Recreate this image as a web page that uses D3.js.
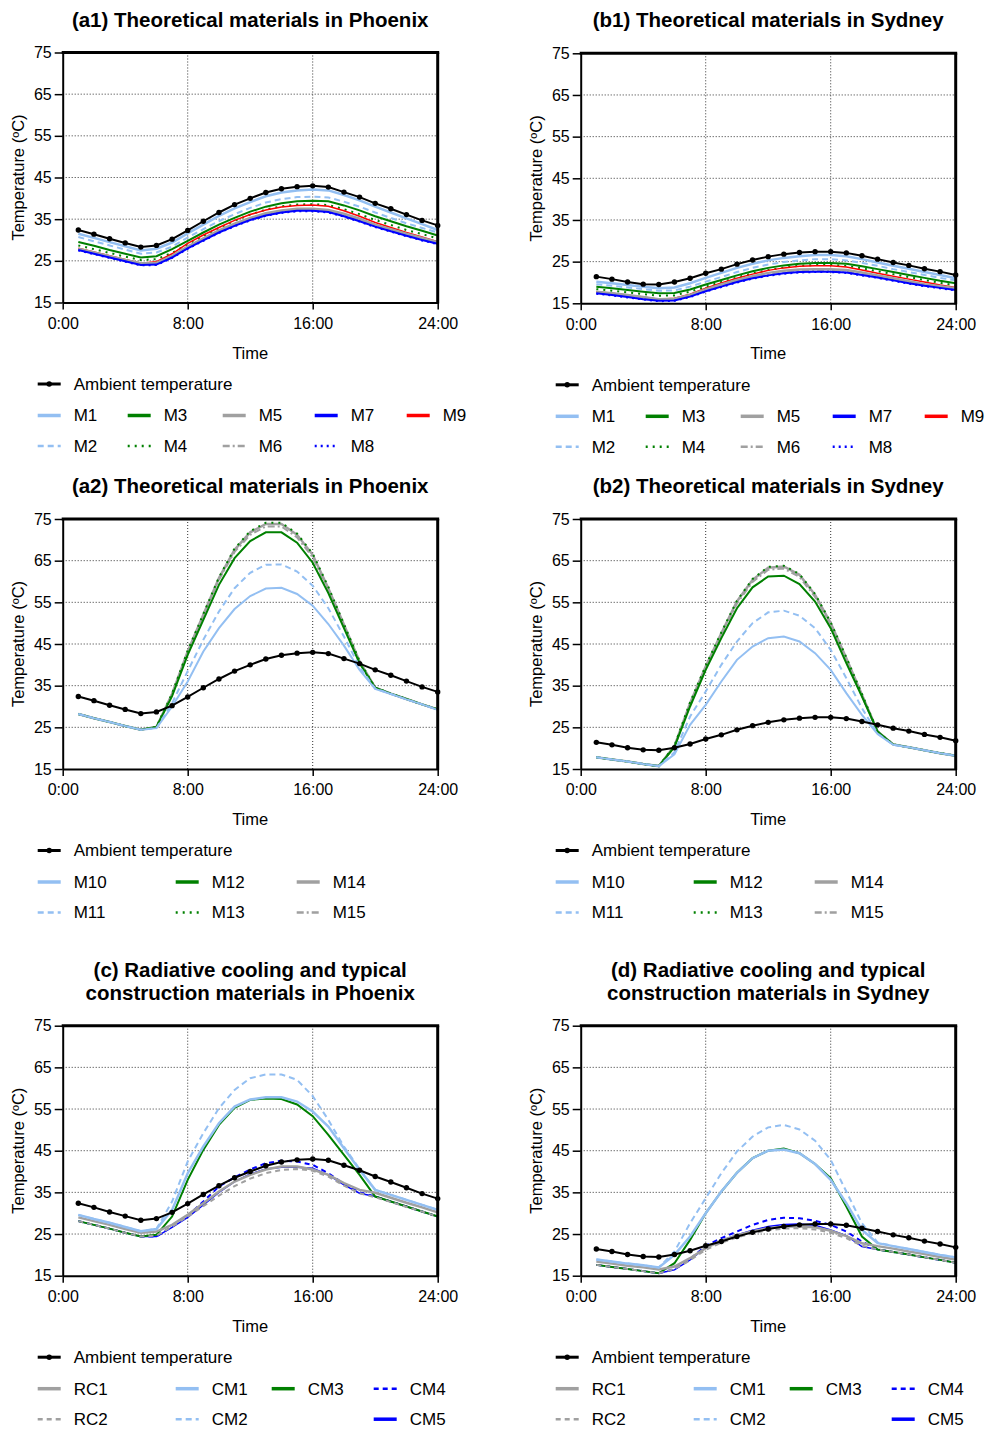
<!DOCTYPE html>
<html>
<head>
<meta charset="utf-8">
<script src="https://cdn.jsdelivr.net/npm/d3@7"></script>
<style>
body { margin: 0; background: #fff; }
text { font-family: "Liberation Sans", Arial, sans-serif; fill: #000; }
</style>
</head>
<body>
<div id="chart"></div>
<script>
// hourly data points, 1:00 .. 24:00
const hours = [1, 2, 3, 4, 5, 6, 7, 8, 9, 10, 11, 12, 13, 14, 15, 16, 17, 18, 19, 20, 21, 22, 23, 24];
const xTicks = [0, 8, 16, 24];
const xTickLabels = ["0:00", "8:00", "16:00", "24:00"];
const yTicks = [15, 25, 35, 45, 55, 65, 75];

const ambientPhoenix = [32.4, 31.4, 30.3, 29.3, 28.3, 28.7, 30.2, 32.3, 34.5, 36.6, 38.5, 40.0, 41.4, 42.3, 42.8, 43.0, 42.7, 41.5, 40.3, 38.8, 37.5, 36.1, 34.7, 33.5];
const ambientSydney = [21.4, 20.8, 20.1, 19.6, 19.5, 20.1, 21.0, 22.2, 23.2, 24.4, 25.4, 26.2, 26.8, 27.2, 27.4, 27.4, 27.1, 26.4, 25.6, 24.8, 24.1, 23.3, 22.6, 21.8];

// (a1)
const m1Phoenix = [31.5, 30.5, 29.5, 28.5, 27.5, 27.9, 29.4, 31.6, 33.7, 35.8, 37.6, 39.1, 40.5, 41.4, 41.9, 42.1, 41.9, 40.8, 39.5, 38.0, 36.6, 35.2, 33.8, 32.4];
const m2Phoenix = [30.7, 29.7, 28.7, 27.7, 26.7, 27.0, 28.4, 30.6, 32.6, 34.5, 36.2, 37.7, 39.0, 39.8, 40.3, 40.4, 40.2, 39.2, 38.0, 36.6, 35.3, 34.0, 32.9, 31.8];
const m3Phoenix = [29.5, 28.6, 27.6, 26.7, 25.8, 26.1, 27.8, 29.8, 31.8, 33.7, 35.3, 36.8, 38.0, 38.8, 39.3, 39.4, 39.3, 38.3, 37.1, 35.7, 34.5, 33.3, 32.2, 31.1];
const m4Phoenix = [28.7, 27.8, 26.9, 26.0, 25.2, 25.4, 26.9, 29.0, 31.0, 32.9, 34.6, 36.1, 37.3, 38.1, 38.5, 38.6, 38.4, 37.4, 36.2, 34.8, 33.6, 32.4, 31.4, 30.4];
const m5Phoenix = [27.9, 27.0, 26.1, 25.2, 24.4, 24.5, 26.2, 28.4, 30.4, 32.3, 33.9, 35.3, 36.4, 37.1, 37.5, 37.5, 37.2, 36.3, 35.1, 33.7, 32.6, 31.5, 30.5, 29.5];
const m6Phoenix = [27.7, 26.8, 25.9, 25.0, 24.2, 24.3, 26.0, 28.2, 30.1, 32.0, 33.6, 35.0, 36.1, 36.8, 37.2, 37.3, 37.0, 36.0, 34.8, 33.4, 32.3, 31.2, 30.2, 29.2];
const m7Phoenix = [27.6, 26.7, 25.8, 24.9, 24.0, 24.1, 25.8, 28.0, 29.9, 31.8, 33.4, 34.8, 35.9, 36.6, 37.0, 37.0, 36.7, 35.7, 34.5, 33.2, 32.1, 31.0, 30.0, 29.1];
const m8Phoenix = [27.5, 26.6, 25.7, 24.8, 23.9, 24.0, 25.7, 27.9, 29.8, 31.7, 33.3, 34.7, 35.8, 36.5, 36.9, 36.9, 36.6, 35.6, 34.4, 33.1, 32.0, 30.9, 29.9, 29.0];
const m9Phoenix = [28.0, 27.1, 26.2, 25.3, 24.4, 24.8, 26.7, 29.2, 31.2, 33.0, 34.7, 36.1, 37.2, 37.9, 38.3, 38.4, 38.1, 37.0, 35.7, 34.2, 33.0, 31.8, 30.7, 29.6];

// (b1)
const m1Sydney = [20.2, 19.8, 19.4, 19.0, 18.6, 18.8, 19.8, 21.1, 22.3, 23.5, 24.5, 25.3, 25.9, 26.3, 26.6, 26.6, 26.3, 25.6, 24.8, 24.0, 23.3, 22.5, 21.8, 21.0];
const m2Sydney = [19.6, 19.2, 18.8, 18.4, 18.0, 18.1, 19.0, 20.2, 21.3, 22.5, 23.5, 24.3, 24.9, 25.3, 25.6, 25.6, 25.3, 24.7, 24.0, 23.2, 22.5, 21.8, 21.1, 20.5];
const m3Sydney = [19.0, 18.6, 18.2, 17.8, 17.4, 17.5, 18.3, 19.5, 20.6, 21.7, 22.7, 23.5, 24.1, 24.5, 24.7, 24.7, 24.5, 23.9, 23.2, 22.5, 21.8, 21.1, 20.4, 19.8];
const m4Sydney = [18.4, 18.0, 17.6, 17.2, 16.8, 16.9, 17.8, 19.0, 20.1, 21.2, 22.2, 23.0, 23.6, 24.0, 24.2, 24.2, 24.0, 23.4, 22.7, 22.0, 21.3, 20.6, 19.9, 19.3];
const m5Sydney = [17.8, 17.4, 17.0, 16.5, 16.0, 16.1, 17.0, 18.3, 19.5, 20.6, 21.5, 22.3, 22.8, 23.1, 23.2, 23.2, 23.0, 22.4, 21.7, 21.0, 20.3, 19.6, 19.1, 18.6];
const m6Sydney = [17.6, 17.2, 16.8, 16.3, 15.8, 15.9, 16.8, 18.1, 19.3, 20.4, 21.3, 22.1, 22.6, 22.9, 23.0, 23.0, 22.8, 22.2, 21.5, 20.8, 20.1, 19.4, 18.9, 18.4];
const m7Sydney = [17.4, 17.0, 16.5, 16.0, 15.6, 15.7, 16.6, 17.9, 19.0, 20.1, 21.0, 21.7, 22.2, 22.5, 22.6, 22.6, 22.4, 21.8, 21.2, 20.5, 19.8, 19.2, 18.7, 18.2];
const m8Sydney = [17.3, 16.9, 16.4, 15.9, 15.5, 15.6, 16.5, 17.8, 18.9, 20.0, 20.9, 21.6, 22.1, 22.4, 22.5, 22.5, 22.3, 21.7, 21.1, 20.4, 19.7, 19.1, 18.6, 18.1];
const m9Sydney = [17.8, 17.4, 17.0, 16.5, 16.0, 16.2, 17.2, 18.6, 19.9, 21.0, 22.0, 22.9, 23.5, 23.9, 24.0, 24.0, 23.7, 23.0, 22.2, 21.5, 20.8, 20.1, 19.4, 18.8];

// (a2)
const m10Phoenix = [28.2, 27.2, 26.3, 25.3, 24.4, 24.8, 30.0, 36.0, 43.2, 48.8, 53.4, 56.5, 58.3, 58.5, 57.0, 54.2, 49.8, 44.6, 38.8, 34.2, 33.0, 31.7, 30.5, 29.2];
const m11Phoenix = [28.2, 27.2, 26.3, 25.3, 24.4, 24.8, 30.8, 38.5, 46.0, 52.8, 58.4, 62.1, 64.0, 64.1, 62.4, 59.0, 53.6, 46.8, 39.5, 34.3, 33.0, 31.7, 30.5, 29.2];
const m12Phoenix = [28.2, 27.2, 26.3, 25.3, 24.4, 25.1, 32.5, 42.4, 50.8, 59.2, 65.6, 69.7, 71.8, 71.8, 69.3, 64.5, 57.2, 48.8, 40.4, 34.5, 33.1, 31.8, 30.5, 29.3];
const m13Phoenix = [28.2, 27.2, 26.3, 25.3, 24.4, 25.1, 33.1, 43.4, 52.2, 61.0, 67.9, 72.1, 74.1, 74.1, 71.5, 66.7, 58.7, 49.8, 40.9, 34.5, 33.1, 31.8, 30.5, 29.3];
const m14Phoenix = [28.2, 27.2, 26.3, 25.3, 24.4, 25.1, 33.0, 43.2, 52.0, 60.8, 67.6, 71.8, 73.8, 73.8, 71.2, 66.4, 58.4, 49.6, 40.8, 34.5, 33.1, 31.8, 30.5, 29.3];
const m15Phoenix = [28.2, 27.2, 26.3, 25.3, 24.4, 25.1, 32.9, 43.0, 51.7, 60.4, 67.1, 71.2, 73.2, 73.2, 70.6, 65.8, 57.9, 49.3, 40.6, 34.5, 33.1, 31.8, 30.5, 29.3];

// (b2)
const m10Sydney = [17.8, 17.3, 16.8, 16.2, 15.7, 18.5, 25.6, 30.4, 36.0, 41.2, 44.4, 46.4, 46.8, 45.6, 42.8, 38.8, 33.2, 28.0, 23.4, 20.8, 20.2, 19.5, 18.8, 18.2];
const m11Sydney = [17.8, 17.3, 16.8, 16.2, 15.7, 19.0, 27.6, 33.6, 40.0, 45.6, 50.0, 52.6, 53.0, 51.8, 48.8, 43.6, 36.8, 29.6, 23.5, 20.8, 20.2, 19.5, 18.8, 18.2];
const m12Sydney = [17.8, 17.3, 16.8, 16.2, 15.7, 20.3, 30.0, 38.8, 46.4, 53.6, 58.6, 61.2, 61.4, 59.4, 55.2, 48.8, 40.4, 32.4, 24.0, 20.9, 20.2, 19.5, 18.8, 18.2];
const m13Sydney = [17.8, 17.3, 16.8, 16.2, 15.7, 20.6, 31.0, 39.8, 47.8, 55.4, 60.6, 63.5, 63.8, 61.8, 57.0, 50.2, 41.8, 33.0, 24.0, 20.9, 20.2, 19.5, 18.8, 18.2];
const m14Sydney = [17.8, 17.3, 16.8, 16.2, 15.7, 20.5, 30.8, 39.6, 47.6, 55.2, 60.4, 63.3, 63.6, 61.6, 56.8, 50.0, 41.6, 32.8, 24.0, 20.9, 20.2, 19.5, 18.8, 18.2];
const m15Sydney = [17.8, 17.3, 16.8, 16.2, 15.7, 20.4, 30.6, 39.3, 47.2, 54.7, 59.9, 62.8, 63.1, 61.1, 56.3, 49.6, 41.2, 32.6, 23.9, 20.9, 20.2, 19.5, 18.8, 18.2];

// (c)
const rc1Phoenix = [29.0, 28.1, 27.2, 26.2, 25.3, 25.6, 27.2, 29.6, 32.4, 35.2, 37.6, 39.2, 40.5, 41.2, 41.2, 40.5, 39.2, 37.2, 35.6, 34.9, 33.7, 32.5, 31.4, 30.2];
const rc2Phoenix = [28.1, 27.2, 26.3, 25.3, 24.4, 24.6, 26.8, 29.2, 31.7, 34.2, 36.5, 38.3, 39.6, 40.4, 40.6, 40.2, 38.8, 36.6, 34.8, 33.8, 32.7, 31.5, 30.4, 29.2];
const cm1Phoenix = [29.6, 28.6, 27.7, 26.7, 25.7, 26.2, 30.8, 39.6, 46.0, 51.6, 55.6, 57.3, 57.8, 57.8, 56.8, 54.4, 50.8, 45.6, 40.4, 35.6, 34.4, 33.2, 32.0, 30.8];
const cm2Phoenix = [29.6, 28.6, 27.7, 26.7, 25.7, 26.2, 32.8, 42.4, 49.2, 55.2, 59.6, 62.4, 63.3, 63.3, 62.0, 58.1, 52.4, 46.0, 40.6, 35.6, 34.4, 33.2, 32.0, 30.8];
const cm3Phoenix = [28.1, 27.2, 26.3, 25.3, 24.4, 24.8, 29.2, 38.0, 45.2, 51.2, 55.3, 57.2, 57.5, 57.4, 56.1, 53.3, 48.8, 44.0, 39.2, 34.0, 32.8, 31.6, 30.4, 29.2];
const cm4Phoenix = [28.1, 27.2, 26.3, 25.3, 24.4, 24.4, 26.8, 29.4, 32.8, 36.4, 38.6, 40.5, 42.0, 42.6, 42.4, 41.6, 39.6, 37.0, 35.0, 34.0, 32.8, 31.6, 30.4, 29.2];
const cm5Phoenix = [28.1, 27.2, 26.3, 25.3, 24.4, 24.4, 26.6, 29.0, 32.0, 35.0, 37.6, 39.4, 40.6, 41.0, 41.0, 40.8, 39.2, 36.8, 34.8, 34.0, 32.8, 31.6, 30.4, 29.2];

// (d)
const rc1Sydney = [18.4, 17.9, 17.4, 17.0, 16.5, 17.2, 19.2, 21.6, 23.4, 24.7, 25.7, 26.4, 26.8, 26.8, 26.6, 25.8, 24.5, 22.8, 22.1, 21.5, 20.8, 20.2, 19.5, 18.9];
const rc2Sydney = [17.6, 17.1, 16.6, 16.1, 15.6, 16.6, 18.7, 21.2, 22.9, 24.2, 25.2, 25.9, 26.3, 26.4, 26.1, 25.3, 24.0, 22.2, 21.3, 20.7, 20.1, 19.4, 18.8, 18.1];
const cm1Sydney = [18.9, 18.4, 17.9, 17.5, 17.0, 20.0, 24.4, 30.0, 35.2, 39.7, 43.2, 45.0, 45.3, 44.4, 41.8, 38.0, 32.4, 26.0, 22.8, 22.1, 21.4, 20.7, 20.0, 19.4];
const cm2Sydney = [18.9, 18.4, 17.9, 17.5, 17.0, 20.8, 27.6, 33.6, 39.6, 44.8, 48.4, 50.6, 51.2, 50.1, 47.4, 42.8, 35.2, 27.6, 23.0, 22.1, 21.4, 20.7, 20.0, 19.4];
const cm3Sydney = [17.6, 17.1, 16.6, 16.1, 15.6, 18.0, 23.6, 30.0, 35.2, 39.7, 43.2, 45.0, 45.5, 44.4, 41.8, 38.4, 31.6, 24.4, 21.3, 20.7, 20.1, 19.4, 18.8, 18.1];
const cm4Sydney = [17.6, 17.1, 16.6, 16.1, 15.6, 16.6, 19.0, 22.2, 24.0, 25.6, 27.2, 28.4, 28.9, 28.8, 28.2, 27.2, 25.6, 23.2, 21.3, 20.7, 20.1, 19.4, 18.8, 18.1];
const cm5Sydney = [17.6, 17.1, 16.6, 16.1, 15.6, 16.4, 18.8, 21.8, 23.4, 24.8, 25.9, 26.8, 27.3, 27.4, 27.1, 26.0, 24.6, 22.0, 21.3, 20.7, 20.1, 19.4, 18.8, 18.1];

// line styles per series name
const lightBlue = "#93bff2", green = "#008000", grey = "#a0a0a0", blue = "#0000ff", red = "#ff0000";
const styles = {
  M1: { color: lightBlue, width: 2.5 }, M2: { color: lightBlue, width: 2, dash: "6,4" },
  M3: { color: green, width: 2 }, M4: { color: green, width: 2, dash: "2,5" },
  M5: { color: grey, width: 2.5 }, M6: { color: grey, width: 2, dash: "7,3,2,3" },
  M7: { color: blue, width: 2 }, M8: { color: blue, width: 2, dash: "2,4" },
  M9: { color: red, width: 1.5 },
  M10: { color: lightBlue, width: 2 }, M11: { color: lightBlue, width: 2, dash: "6,4" },
  M12: { color: green, width: 2 }, M13: { color: green, width: 2, dash: "2,5" },
  M14: { color: grey, width: 2.5 }, M15: { color: grey, width: 2, dash: "7,3,2,3" },
  RC1: { color: grey, width: 2.5 }, RC2: { color: grey, width: 2, dash: "5,4" },
  CM1: { color: lightBlue, width: 2.5 }, CM2: { color: lightBlue, width: 2, dash: "6,4" },
  CM3: { color: green, width: 2 }, CM4: { color: blue, width: 2, dash: "5,4" },
  CM5: { color: blue, width: 1.5 }
};

const svg = d3.select("#chart").append("svg")
  .attr("width", 985)
  .attr("height", 1439);

function drawPanel(p) {
  const x = d3.scaleLinear().domain([0, 24]).range([p.left, p.left + 375]);
  const y = d3.scaleLinear().domain([15, 75]).range([p.top + 250, p.top]);
  const g = svg.append("g");

  // dotted grid
  g.selectAll("line.hgrid").data([25, 35, 45, 55, 65]).join("line")
    .attr("class", "hgrid")
    .attr("x1", x(0)).attr("x2", x(24))
    .attr("y1", d => y(d)).attr("y2", d => y(d))
    .attr("stroke", "#333").attr("stroke-width", 1).attr("stroke-dasharray", "1,2");
  g.selectAll("line.vgrid").data([8, 16]).join("line")
    .attr("class", "vgrid")
    .attr("x1", d => x(d)).attr("x2", d => x(d))
    .attr("y1", y(15)).attr("y2", y(75))
    .attr("stroke", "#333").attr("stroke-width", 1).attr("stroke-dasharray", "1,2");

  const line = d3.line().x((d, i) => x(hours[i])).y(d => y(d));
  p.series.forEach(s => {
    const st = styles[s.name];
    g.append("path")
      .attr("d", line(s.values))
      .attr("fill", "none")
      .attr("stroke", st.color)
      .attr("stroke-width", st.width)
      .attr("stroke-dasharray", st.dash || null);
  });

  // ambient on top with dots
  g.append("path")
    .attr("d", line(p.ambient))
    .attr("fill", "none").attr("stroke", "#000").attr("stroke-width", 2);
  g.selectAll("circle.amb").data(p.ambient).join("circle")
    .attr("class", "amb")
    .attr("cx", (d, i) => x(hours[i])).attr("cy", d => y(d))
    .attr("r", 2.7).attr("fill", "#000");

  // axes
  const ay = g.append("g")
    .attr("transform", `translate(${x(0)},0)`)
    .call(d3.axisLeft(y).tickValues(yTicks).tickSize(8).tickPadding(3).tickSizeOuter(0));
  const axb = g.append("g")
    .attr("transform", `translate(0,${y(15)})`)
    .call(d3.axisBottom(x).tickValues(xTicks).tickFormat((d, i) => xTickLabels[i])
      .tickSize(7).tickPadding(8).tickSizeOuter(0));
  [ay, axb].forEach(a => {
    a.select(".domain").attr("stroke", "#000").attr("stroke-width", 2);
    a.selectAll(".tick line").attr("stroke", "#000").attr("stroke-width", 1.5);
    a.selectAll(".tick text").attr("font-size", 16)
      .attr("font-family", '"Liberation Sans", Arial, sans-serif').attr("fill", "#000");
  });

  // heavier frame on top and right
  g.append("line").attr("x1", x(0) - 1).attr("x2", x(24) + 1.5)
    .attr("y1", y(75)).attr("y2", y(75)).attr("stroke", "#000").attr("stroke-width", 3);
  g.append("line").attr("x1", x(24)).attr("x2", x(24))
    .attr("y1", y(75)).attr("y2", y(15) + 1).attr("stroke", "#000").attr("stroke-width", 3);

  // labels
  const cx = (x(0) + x(24)) / 2;
  g.append("text").attr("x", cx).attr("y", y(15) + 56)
    .attr("text-anchor", "middle").attr("font-size", 16.5).text("Time");
  g.append("text")
    .attr("transform", `translate(${x(0) - 44},${(y(15) + y(75)) / 2}) rotate(-90)`)
    .attr("dy", "0.35em")
    .attr("text-anchor", "middle").attr("font-size", 16.5).text("Temperature (ºC)");
  p.title.forEach((t, i) => {
    g.append("text").attr("x", cx)
      .attr("y", y(75) - 26 - (p.title.length - 1 - i) * 23)
      .attr("text-anchor", "middle").attr("font-size", 20.5).attr("font-weight", "bold")
      .text(t);
  });

  // legend
  const legX = x(0) + 11;
  const rowY = [81.5, 113, 143.5].map(d => y(15) + d);
  const lg = g.append("g");
  lg.append("line").attr("x1", legX - 36).attr("x2", legX - 13)
    .attr("y1", rowY[0]).attr("y2", rowY[0]).attr("stroke", "#000").attr("stroke-width", 3);
  lg.append("circle").attr("cx", legX - 24.5).attr("cy", rowY[0]).attr("r", 2.7).attr("fill", "#000");
  lg.append("text").attr("x", legX).attr("y", rowY[0]).attr("dy", "0.35em")
    .attr("font-size", 17).text("Ambient temperature");
  p.legend.forEach((row, r) => {
    row.forEach((name, c) => {
      if (!name) return;
      const st = styles[name];
      const tx = legX + p.legendCols[c];
      lg.append("line").attr("x1", tx - 36).attr("x2", tx - 13)
        .attr("y1", rowY[r + 1]).attr("y2", rowY[r + 1])
        .attr("stroke", st.color).attr("stroke-width", st.dash ? 2.5 : 3.5)
        .attr("stroke-dasharray", st.dash || null);
      lg.append("text").attr("x", tx).attr("y", rowY[r + 1]).attr("dy", "0.35em")
        .attr("font-size", 17).text(name);
    });
  });
}

const colsA = [0, 90, 185, 277, 369];
const colsB = [0, 138, 259];
const colsC = [0, 138, 234, 336];

drawPanel({
  left: 62.7, top: 52.5, ambient: ambientPhoenix,
  title: ["(a1) Theoretical materials in Phoenix"],
  series: [
    { name: "M1", values: m1Phoenix }, { name: "M2", values: m2Phoenix },
    { name: "M3", values: m3Phoenix }, { name: "M4", values: m4Phoenix },
    { name: "M9", values: m9Phoenix },
    { name: "M5", values: m5Phoenix }, { name: "M6", values: m6Phoenix },
    { name: "M7", values: m7Phoenix }, { name: "M8", values: m8Phoenix }
  ],
  legend: [["M1", "M3", "M5", "M7", "M9"], ["M2", "M4", "M6", "M8"]], legendCols: colsA
});
drawPanel({
  left: 580.7, top: 53.3, ambient: ambientSydney,
  title: ["(b1) Theoretical materials in Sydney"],
  series: [
    { name: "M1", values: m1Sydney }, { name: "M2", values: m2Sydney },
    { name: "M3", values: m3Sydney }, { name: "M4", values: m4Sydney },
    { name: "M9", values: m9Sydney },
    { name: "M5", values: m5Sydney }, { name: "M6", values: m6Sydney },
    { name: "M7", values: m7Sydney }, { name: "M8", values: m8Sydney }
  ],
  legend: [["M1", "M3", "M5", "M7", "M9"], ["M2", "M4", "M6", "M8"]], legendCols: colsA
});
drawPanel({
  left: 62.7, top: 519, ambient: ambientPhoenix,
  title: ["(a2) Theoretical materials in Phoenix"],
  series: [
    { name: "M14", values: m14Phoenix }, { name: "M15", values: m15Phoenix },
    { name: "M13", values: m13Phoenix }, { name: "M12", values: m12Phoenix },
    { name: "M11", values: m11Phoenix }, { name: "M10", values: m10Phoenix }
  ],
  legend: [["M10", "M12", "M14"], ["M11", "M13", "M15"]], legendCols: colsB
});
drawPanel({
  left: 580.7, top: 519, ambient: ambientSydney,
  title: ["(b2) Theoretical materials in Sydney"],
  series: [
    { name: "M14", values: m14Sydney }, { name: "M15", values: m15Sydney },
    { name: "M13", values: m13Sydney }, { name: "M12", values: m12Sydney },
    { name: "M11", values: m11Sydney }, { name: "M10", values: m10Sydney }
  ],
  legend: [["M10", "M12", "M14"], ["M11", "M13", "M15"]], legendCols: colsB
});
drawPanel({
  left: 62.7, top: 1025.7, ambient: ambientPhoenix,
  title: ["(c) Radiative cooling and typical", "construction materials in Phoenix"],
  series: [
    { name: "CM5", values: cm5Phoenix }, { name: "CM4", values: cm4Phoenix },
    { name: "CM3", values: cm3Phoenix }, { name: "RC2", values: rc2Phoenix },
    { name: "RC1", values: rc1Phoenix }, { name: "CM1", values: cm1Phoenix },
    { name: "CM2", values: cm2Phoenix }
  ],
  legend: [["RC1", "CM1", "CM3", "CM4"], ["RC2", "CM2", null, "CM5"]], legendCols: colsC
});
drawPanel({
  left: 580.7, top: 1025.7, ambient: ambientSydney,
  title: ["(d) Radiative cooling and typical", "construction materials in Sydney"],
  series: [
    { name: "CM5", values: cm5Sydney }, { name: "CM4", values: cm4Sydney },
    { name: "CM3", values: cm3Sydney }, { name: "RC2", values: rc2Sydney },
    { name: "RC1", values: rc1Sydney }, { name: "CM1", values: cm1Sydney },
    { name: "CM2", values: cm2Sydney }
  ],
  legend: [["RC1", "CM1", "CM3", "CM4"], ["RC2", "CM2", null, "CM5"]], legendCols: colsC
});
</script>
</body>
</html>
